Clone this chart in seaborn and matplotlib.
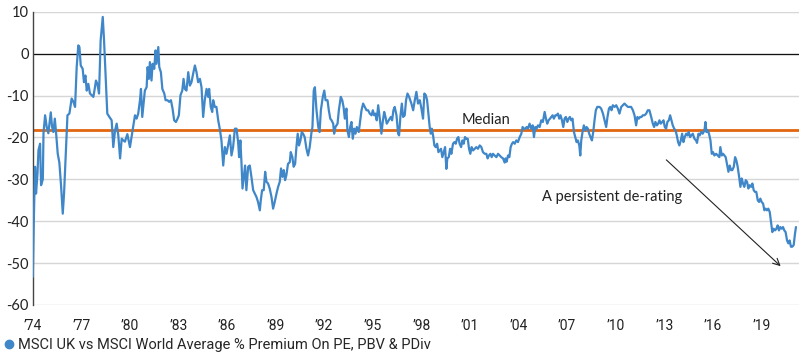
import matplotlib
matplotlib.use("Agg")
import matplotlib.pyplot as plt
import seaborn as sns
from matplotlib.lines import Line2D

# decimal years, with the premium (%) at each point
years = [
    1974.00, 1974.08, 1974.14, 1974.20, 1974.29, 1974.35, 1974.45, 1974.51, 1974.62, 1974.66,
    1974.76, 1974.86, 1974.96, 1975.11, 1975.19, 1975.27, 1975.36, 1975.44, 1975.54, 1975.64,
    1975.75, 1975.85, 1975.93, 1976.05, 1976.14, 1976.26, 1976.40, 1976.51, 1976.61, 1976.71,
    1976.81, 1976.88, 1976.96, 1977.08, 1977.16, 1977.25, 1977.33, 1977.43, 1977.53, 1977.64,
    1977.74, 1977.84, 1977.90, 1977.99, 1978.09, 1978.19, 1978.32, 1978.40, 1978.52, 1978.60,
    1978.73, 1978.87, 1978.97, 1979.08, 1979.18, 1979.28, 1979.39, 1979.49, 1979.59, 1979.69,
    1979.84, 1980.00, 1980.10, 1980.20, 1980.31, 1980.41, 1980.51, 1980.62, 1980.68, 1980.76,
    1980.82, 1980.92, 1981.03, 1981.09, 1981.17, 1981.23, 1981.33, 1981.40, 1981.50, 1981.58,
    1981.64, 1981.75, 1981.81, 1981.91, 1982.00, 1982.12, 1982.20, 1982.32, 1982.42, 1982.53,
    1982.63, 1982.73, 1982.84, 1982.94, 1983.02, 1983.12, 1983.23, 1983.31, 1983.39, 1983.49,
    1983.60, 1983.70, 1983.80, 1983.90, 1984.01, 1984.11, 1984.21, 1984.32, 1984.42, 1984.52,
    1984.62, 1984.73, 1984.83, 1984.89, 1984.99, 1985.08, 1985.14, 1985.24, 1985.34, 1985.45,
    1985.55, 1985.65, 1985.76, 1985.86, 1985.96, 1986.06, 1986.17, 1986.27, 1986.37, 1986.48,
    1986.58, 1986.68, 1986.74, 1986.82, 1986.89, 1986.95, 1987.03, 1987.11, 1987.19, 1987.30,
    1987.40, 1987.50, 1987.61, 1987.71, 1987.81, 1987.91, 1988.02, 1988.08, 1988.16, 1988.26,
    1988.35, 1988.43, 1988.53, 1988.63, 1988.74, 1988.84, 1988.94, 1989.05, 1989.15, 1989.25,
    1989.33, 1989.42, 1989.50, 1989.58, 1989.66, 1989.76, 1989.87, 1989.93, 1990.03, 1990.11,
    1990.20, 1990.28, 1990.36, 1990.44, 1990.53, 1990.61, 1990.69, 1990.79, 1990.90, 1991.00,
    1991.10, 1991.20, 1991.27, 1991.35, 1991.42, 1991.52, 1991.63, 1991.71, 1991.79, 1991.91,
    1992.00, 1992.08, 1992.20, 1992.28, 1992.37, 1992.45, 1992.55, 1992.61, 1992.69, 1992.82,
    1992.90, 1993.02, 1993.11, 1993.19, 1993.27, 1993.37, 1993.43, 1993.52, 1993.60, 1993.68,
    1993.76, 1993.85, 1993.93, 1994.01, 1994.13, 1994.22, 1994.30, 1994.40, 1994.50, 1994.61,
    1994.71, 1994.81, 1994.92, 1995.00, 1995.08, 1995.16, 1995.24, 1995.33, 1995.43, 1995.53,
    1995.61, 1995.70, 1995.78, 1995.86, 1995.98, 1996.11, 1996.19, 1996.27, 1996.35, 1996.46,
    1996.56, 1996.62, 1996.70, 1996.79, 1996.87, 1996.97, 1997.05, 1997.14, 1997.24, 1997.38,
    1997.49, 1997.59, 1997.69, 1997.79, 1997.90, 1998.00, 1998.10, 1998.18, 1998.27, 1998.35,
    1998.43, 1998.51, 1998.58, 1998.64, 1998.72, 1998.80, 1998.88, 1998.97, 1999.05, 1999.13,
    1999.21, 1999.29, 1999.38, 1999.46, 1999.54, 1999.60, 1999.69, 1999.77, 1999.85, 1999.95,
    2000.04, 2000.12, 2000.20, 2000.28, 2000.36, 2000.45, 2000.53, 2000.61, 2000.69, 2000.78,
    2000.86, 2000.94, 2001.02, 2001.10, 2001.19, 2001.29, 2001.39, 2001.49, 2001.60, 2001.70,
    2001.80, 2001.91, 2002.01, 2002.09, 2002.17, 2002.26, 2002.34, 2002.42, 2002.52, 2002.63,
    2002.73, 2002.83, 2002.93, 2003.04, 2003.14, 2003.20, 2003.26, 2003.35, 2003.43, 2003.51,
    2003.59, 2003.67, 2003.76, 2003.86, 2003.96, 2004.07, 2004.17, 2004.25, 2004.33, 2004.41,
    2004.50, 2004.58, 2004.68, 2004.78, 2004.87, 2004.95, 2005.03, 2005.11, 2005.20, 2005.30,
    2005.40, 2005.50, 2005.61, 2005.69, 2005.77, 2005.85, 2005.94, 2006.02, 2006.10, 2006.18,
    2006.27, 2006.35, 2006.43, 2006.51, 2006.59, 2006.68, 2006.76, 2006.84, 2006.92, 2007.01,
    2007.09, 2007.17, 2007.25, 2007.33, 2007.42, 2007.50, 2007.58, 2007.66, 2007.75, 2007.81,
    2007.87, 2007.95, 2008.03, 2008.12, 2008.20, 2008.28, 2008.36, 2008.44, 2008.53, 2008.61,
    2008.69, 2008.77, 2008.86, 2008.94, 2009.00, 2009.10, 2009.21, 2009.31, 2009.41, 2009.49,
    2009.58, 2009.66, 2009.74, 2009.82, 2009.93, 2010.03, 2010.13, 2010.23, 2010.34, 2010.44,
    2010.54, 2010.64, 2010.75, 2010.85, 2010.95, 2011.06, 2011.16, 2011.26, 2011.34, 2011.43,
    2011.51, 2011.59, 2011.67, 2011.78, 2011.88, 2011.98, 2012.08, 2012.19, 2012.29, 2012.37,
    2012.45, 2012.54, 2012.62, 2012.70, 2012.78, 2012.87, 2012.95, 2013.03, 2013.11, 2013.19,
    2013.28, 2013.36, 2013.44, 2013.52, 2013.61, 2013.69, 2013.77, 2013.85, 2013.93, 2014.02,
    2014.10, 2014.18, 2014.26, 2014.35, 2014.43, 2014.51, 2014.59, 2014.67, 2014.76, 2014.86,
    2014.96, 2015.02, 2015.11, 2015.19, 2015.27, 2015.37, 2015.48, 2015.54, 2015.60, 2015.68,
    2015.76, 2015.85, 2015.93, 2016.01, 2016.09, 2016.20, 2016.30, 2016.40, 2016.46, 2016.55,
    2016.63, 2016.71, 2016.79, 2016.87, 2016.96, 2017.04, 2017.12, 2017.20, 2017.29, 2017.37,
    2017.45, 2017.53, 2017.62, 2017.70, 2017.78, 2017.86, 2017.94, 2018.03, 2018.11, 2018.19,
    2018.27, 2018.36, 2018.44, 2018.52, 2018.60, 2018.68, 2018.77, 2018.85, 2018.93, 2019.01,
    2019.10, 2019.18, 2019.26, 2019.34, 2019.42, 2019.51, 2019.59, 2019.67, 2019.75, 2019.84,
    2019.92, 2020.00, 2020.08, 2020.16, 2020.25, 2020.33, 2020.41, 2020.49, 2020.58, 2020.66,
    2020.74, 2020.82, 2020.90, 2020.99, 2021.07, 2021.13,
]
premium = [
    -53.3, -36.6, -27.0, -33.4, -28.6, -23.0, -21.5, -31.4, -30.0, -19.0,
    -14.7, -17.5, -19.0, -14.0, -17.5, -18.7, -15.5, -19.0, -23.9, -26.0,
    -31.8, -38.2, -33.4, -23.0, -14.7, -14.3, -10.7, -11.5, -12.7, -3.2,
    2.0, 1.6, -2.8, -3.6, -6.8, -5.2, -8.8, -7.2, -9.5, -9.9,
    -10.3, -8.0, -6.4, -7.2, -9.5, 3.2, 8.8, 3.2, -7.2, -14.3,
    -15.1, -15.9, -22.3, -18.3, -16.7, -19.5, -25.0, -20.3, -20.7, -21.0,
    -19.2, -22.3, -19.9, -17.5, -14.7, -15.5, -14.3, -11.1, -8.4, -15.1,
    -12.7, -8.8, -8.0, -3.2, -6.0, -2.0, -6.4, -2.4, -3.6, 0.8,
    -2.4, 1.6, -3.2, -4.4, -8.4, -9.5, -11.1, -11.1, -11.5, -11.1,
    -13.1, -15.9, -16.3, -15.5, -14.7, -9.9, -8.8, -6.0, -8.4, -8.8,
    -4.4, -7.6, -6.8, -4.8, -2.8, -4.4, -6.8, -6.0, -8.0, -15.1,
    -11.1, -8.4, -10.3, -8.4, -12.7, -13.9, -11.1, -12.7, -12.7, -15.9,
    -18.0, -20.7, -26.7, -22.3, -23.9, -21.9, -19.5, -24.3, -22.3, -17.9,
    -17.9, -21.1, -24.7, -20.7, -26.3, -32.2, -29.4, -26.7, -32.6, -27.0,
    -26.7, -29.4, -32.6, -33.4, -34.2, -35.4, -37.4, -35.0, -32.6, -32.6,
    -28.2, -30.6, -31.0, -32.2, -34.2, -37.0, -35.4, -33.4, -31.8, -30.6,
    -27.4, -29.4, -27.8, -30.2, -29.0, -26.3, -25.9, -23.5, -24.7, -27.0,
    -26.3, -22.3, -19.1, -21.9, -20.7, -18.7, -19.1, -19.9, -22.7, -24.3,
    -22.3, -19.1, -17.5, -8.8, -8.0, -13.5, -17.5, -18.7, -13.5, -10.3,
    -8.8, -11.1, -11.1, -13.5, -15.5, -15.9, -16.7, -19.1, -17.5, -16.7,
    -13.5, -10.3, -11.1, -12.7, -15.5, -13.1, -18.3, -19.9, -17.5, -16.3,
    -20.3, -17.9, -19.1, -17.5, -18.7, -15.9, -13.5, -11.9, -12.7, -13.5,
    -13.5, -14.3, -14.7, -13.5, -14.7, -14.3, -15.9, -12.3, -15.5, -19.1,
    -16.3, -13.9, -15.1, -16.7, -15.9, -15.1, -15.9, -13.5, -12.7, -14.7,
    -19.1, -19.5, -15.1, -11.9, -15.1, -14.7, -11.1, -9.5, -10.3, -11.9,
    -13.5, -11.1, -9.1, -11.9, -11.1, -13.1, -15.5, -9.5, -9.9, -11.1,
    -14.3, -17.5, -19.1, -17.9, -19.5, -21.9, -22.3, -21.5, -23.5, -23.1,
    -22.7, -24.7, -23.5, -22.3, -27.5, -25.0, -24.7, -22.7, -23.9, -21.5,
    -21.1, -21.5, -20.3, -19.9, -21.5, -22.3, -20.7, -21.5, -19.9, -20.3,
    -20.3, -22.7, -23.9, -22.3, -23.1, -22.7, -22.3, -22.7, -21.9, -22.3,
    -23.5, -23.9, -23.9, -25.0, -24.3, -23.9, -24.7, -23.9, -24.3, -24.7,
    -23.9, -24.3, -24.7, -25.0, -26.0, -25.0, -25.8, -24.3, -24.7, -22.3,
    -21.5, -21.1, -21.5, -20.7, -21.1, -19.9, -19.1, -17.5, -17.9, -17.9,
    -17.5, -17.9, -16.7, -17.9, -17.1, -19.9, -17.5, -17.9, -17.1, -17.5,
    -15.9, -16.3, -13.9, -15.5, -16.7, -15.9, -15.5, -15.1, -14.7, -15.5,
    -14.7, -14.7, -14.3, -15.5, -14.7, -15.9, -17.5, -15.5, -15.1, -16.3,
    -15.5, -15.1, -15.9, -15.5, -18.7, -19.9, -21.1, -20.7, -21.9, -24.3,
    -20.7, -18.7, -17.1, -18.3, -17.5, -17.9, -19.1, -19.9, -20.7, -18.7,
    -15.9, -13.5, -12.7, -12.7, -12.7, -13.1, -14.3, -15.9, -17.5, -15.1,
    -13.1, -12.7, -13.5, -12.3, -12.7, -12.3, -13.1, -14.3, -12.7, -12.3,
    -11.9, -12.3, -12.7, -12.7, -12.7, -13.5, -14.7, -17.1, -15.1, -15.5,
    -15.1, -15.1, -14.7, -14.7, -14.3, -13.5, -13.5, -15.1, -16.7, -17.5,
    -16.3, -17.1, -16.7, -15.9, -16.7, -16.3, -15.9, -17.5, -17.9, -16.3,
    -15.9, -14.7, -15.9, -17.1, -17.9, -18.3, -19.5, -21.1, -21.9, -20.7,
    -19.1, -21.1, -19.9, -19.1, -19.5, -18.7, -19.9, -19.5, -19.1, -20.3,
    -20.7, -21.3, -19.1, -19.5, -18.7, -19.1, -18.3, -16.3, -18.7, -18.3,
    -19.1, -20.7, -23.9, -23.5, -24.3, -23.9, -24.3, -24.7, -22.3, -24.3,
    -23.9, -24.3, -24.7, -26.3, -28.2, -26.7, -27.8, -27.8, -27.0, -24.7,
    -25.5, -27.0, -29.4, -31.8, -29.8, -31.0, -31.8, -30.2, -30.6, -32.2,
    -31.4, -31.8, -31.0, -32.6, -33.0, -33.0, -35.0, -35.4, -34.6, -35.4,
    -35.8, -37.4, -37.0, -37.4, -37.0, -37.8, -40.2, -42.6, -41.8, -42.2,
    -41.8, -41.0, -42.2, -41.4, -41.8, -41.4, -42.2, -42.6, -44.6, -45.3,
    -44.6, -46.1, -46.1, -45.7, -43.0, -41.4,
]
median_value = -18.2
tick_years = list(range(1974, 2020, 3))
tick_labels = ["\u2019" + str(y)[2:] for y in tick_years]
y_ticks = list(range(-60, 11, 10))
series_label = "MSCI UK vs MSCI World Average % Premium On PE, PBV & PDiv"

BLUE = "#3f87c9"
ORANGE = "#e2650f"

sns.set_theme(style="white")
plt.rcParams["font.family"] = ["Lato", "DejaVu Sans"]
narrow = ["Roboto", "DejaVu Sans"]

fig, ax = plt.subplots(figsize=(8, 3.6), dpi=100)
fig.subplots_adjust(left=0.041, right=0.999, top=0.967, bottom=0.153)

for y in y_ticks:
    ax.axhline(y, color="#d6d6d6", lw=1.0, zorder=0)
ax.axhline(0, color="#111111", lw=0.9, zorder=1)
ax.axhline(median_value, color=ORANGE, lw=2.0, zorder=2)

sns.lineplot(x=years, y=premium, color=BLUE, linewidth=1.6, ax=ax, zorder=3)

ax.set_xlim(1974, 2021.33)
ax.set_ylim(-60, 10)
ax.set_yticks(y_ticks)
ax.set_yticklabels([str(v) for v in y_ticks], fontsize=10.5, color="#222222")
ax.set_xticks(tick_years)
ax.set_xticklabels(tick_labels, fontsize=10, color="#222222", family=narrow)
ax.tick_params(axis="both", length=0)
ax.tick_params(axis="x", pad=10)
ax.tick_params(axis="y", pad=3)
for side in ["top", "right", "bottom"]:
    ax.spines[side].set_visible(False)
ax.spines["left"].set_color("#444444")
ax.spines["left"].set_linewidth(1.0)
ax.set_xlabel("")
ax.set_ylabel("")

ax.text(2000.5, -15.8, "Median", fontsize=10.5, color="#222222", va="center")
ax.text(2005.45, -34.3, "A persistent de-rating", fontsize=10.5, color="#222222", va="center")
ax.annotate(
    "",
    xy=(2020.31, -51.2),
    xytext=(2013.0, -24.9),
    arrowprops=dict(arrowstyle="->", color="#222222", lw=0.8),
)

handle = Line2D([], [], marker="o", ls="", color=BLUE, markersize=6)
fig.legend(
    [handle],
    [series_label],
    loc="center left",
    bbox_to_anchor=(0.0, 0.042),
    frameon=False,
    handlelength=0.9,
    handletextpad=0.15,
    borderpad=0.2,
    borderaxespad=0,
    prop={"family": narrow, "size": 10.5},
)

fig.savefig("out.png", dpi=100)
